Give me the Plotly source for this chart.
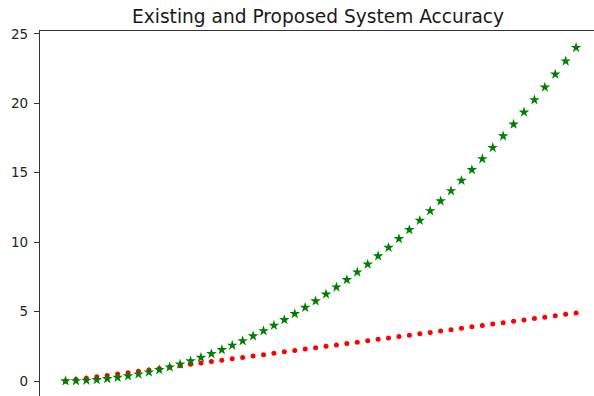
import plotly.graph_objects as go

t = [0.0, 0.1, 0.2, 0.3, 0.4, 0.5, 0.6, 0.7, 0.8, 0.9,
     1.0, 1.1, 1.2, 1.3, 1.4, 1.5, 1.6, 1.7, 1.8, 1.9,
     2.0, 2.1, 2.2, 2.3, 2.4, 2.5, 2.6, 2.7, 2.8, 2.9,
     3.0, 3.1, 3.2, 3.3, 3.4, 3.5, 3.6, 3.7, 3.8, 3.9,
     4.0, 4.1, 4.2, 4.3, 4.4, 4.5, 4.6, 4.7, 4.8, 4.9]
existing = [0.0, 0.1, 0.2, 0.3, 0.4, 0.5, 0.6, 0.7, 0.8, 0.9,
            1.0, 1.1, 1.2, 1.3, 1.4, 1.5, 1.6, 1.7, 1.8, 1.9,
            2.0, 2.1, 2.2, 2.3, 2.4, 2.5, 2.6, 2.7, 2.8, 2.9,
            3.0, 3.1, 3.2, 3.3, 3.4, 3.5, 3.6, 3.7, 3.8, 3.9,
            4.0, 4.1, 4.2, 4.3, 4.4, 4.5, 4.6, 4.7, 4.8, 4.9]
proposed = [0.0, 0.01, 0.04, 0.09, 0.16, 0.25, 0.36, 0.49, 0.64, 0.81,
            1.0, 1.21, 1.44, 1.69, 1.96, 2.25, 2.56, 2.89, 3.24, 3.61,
            4.0, 4.41, 4.84, 5.29, 5.76, 6.25, 6.76, 7.29, 7.84, 8.41,
            9.0, 9.61, 10.24, 10.89, 11.56, 12.25, 12.96, 13.69, 14.44, 15.21,
            16.0, 16.81, 17.64, 18.49, 19.36, 20.25, 21.16, 22.09, 23.04, 24.01]
y_ticks = [0, 5, 10, 15, 20, 25]
title_text = "Existing and Proposed System Accuracy"

fig = go.Figure()
fig.add_trace(go.Scatter(x=t, y=existing, mode="markers",
                         marker=dict(symbol="circle", size=5, color="#ff0000", line=dict(width=0)),
                         showlegend=False))
fig.add_trace(go.Scatter(x=t, y=proposed, mode="markers",
                         marker=dict(symbol="star", size=8, color="#008000", line=dict(width=0)),
                         showlegend=False))

fig.update_layout(
    width=594, height=396,
    margin=dict(l=40, r=0, t=31, b=0, pad=0),
    plot_bgcolor="white", paper_bgcolor="white",
    font=dict(family="DejaVu Sans", color="#262626"),
    xaxis=dict(range=[-0.245, 5.072], showgrid=False, zeroline=False,
               showticklabels=False, ticks="", side="top",
               showline=True, linecolor="#333333", linewidth=1.2),
    yaxis=dict(range=[-1.08, 25.21], tickvals=y_ticks, showgrid=False, zeroline=False,
               ticks="outside", ticklen=5, tickwidth=1.1, tickcolor="#333333",
               showline=True, linecolor="#333333", linewidth=1.2,
               tickfont=dict(size=13.5, color="#262626"), ticklabelstandoff=3),
    annotations=[dict(text=title_text, xref="paper", yref="paper",
                      x=(318 - 40) / 554, y=1 + 15 / 365, xanchor="center", yanchor="middle",
                      showarrow=False, font=dict(size=18.6, color="#1a1a1a"))],
)

fig.write_html("out.html")
